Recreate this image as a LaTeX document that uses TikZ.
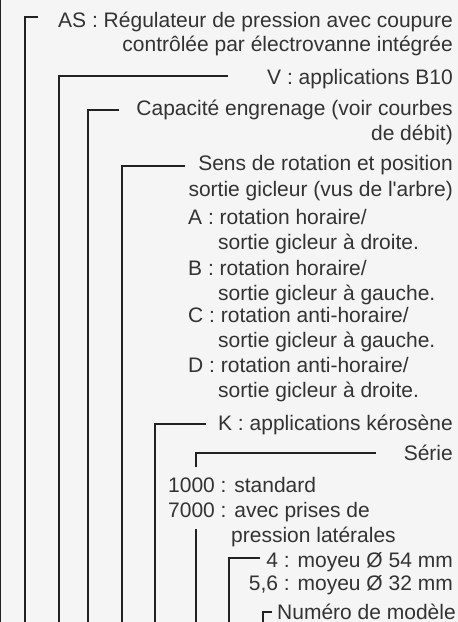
\documentclass[tikz,border=0pt]{standalone}
\usepackage{fontspec}
\setmainfont{Liberation Sans}
\usepackage{xcolor}
\usepackage{tikz}
\usetikzlibrary{positioning}
\usetikzlibrary{calc}
\definecolor{bggray}{HTML}{F5F5F5}
\definecolor{inkgray}{HTML}{222222}
\definecolor{txtgray}{HTML}{333333}
\newcommand{\apos}{\XeTeXglyph\XeTeXcharglyph"27\relax}

\begin{document}
\begin{tikzpicture}[x=1pt,y=-1pt,labelr/.style={anchor=base east,align=right},labell/.style={anchor=base west,align=left},bracket/.style={draw=inkgray,line width=2pt}]
            \fill[bggray] (0,0) rectangle (458,622);
            \useasboundingbox (0,0) rectangle (458,622);
            \draw[inkgray,line width=1pt] (0.5,0) -- (0.5,622);
            \begin{scope}[every node/.style={inner sep=0pt,text=txtgray,font=\fontsize{21}{25}\selectfont}]
              \node[labelr,font=\fontsize{21}{24}\selectfont] (as) at (453,51) {AS : Régulateur de pression avec coupure\\contrôlée par électrovanne intégrée};
              \node[labelr] (v) at (453,84) {V : applications B10};
              \node[labelr] (cap) at (453,140) {Capacité engrenage (voir courbes\\de débit)};
              \node[labelr,font=\fontsize{21}{26}\selectfont] (sens) at (453,196) {Sens de rotation et position\\sortie gicleur (vus de l\apos arbre)};
              \node[labell] (rota) at (188,249) {A : rotation horaire/\\\hspace*{30pt}sortie gicleur à droite.};
              \node[labell] (rotb) at (188,300) {B : rotation horaire/\\\hspace*{30pt}sortie gicleur à gauche.};
              \node[labell] (rotc) at (188,347) {C : rotation anti-horaire/\\\hspace*{30pt}sortie gicleur à gauche.};
              \node[labell] (rotd) at (188,397) {D : rotation anti-horaire/\\\hspace*{30pt}sortie gicleur à droite.};
              \node[labelr] (k) at (453,430) {K : applications kérosène};
              \node[labelr] (serie) at (453,460) {Série};
              \node[labell] (std1000) at (168,492) {1000 : standard};
              \node[labell] (std7000) at (168,542) {7000 : avec prises de\\\hspace*{63pt}pression latérales};
              \node[labelr] (moyeu) at (453,567) {4 : moyeu Ø 54 mm};
              \node[labelr] (moyeub) at (453,590) {5,6 : moyeu Ø 32 mm};
              \node[labell] (num) at (277,619) {Numéro de modèle};
            \end{scope}
            \foreach \name/\xpos in {as/25,v/59,cap/88,sens/122,k/155,serie/196,moyeu/229,num/263}
              \coordinate (\name-bot) at (\xpos,622);
            \coordinate (serie-stop) at (196,467);
            \coordinate (serie-restart) at (196,529);
            \draw[bracket] ([xshift=-20pt,yshift=34pt]as.base west) -| (as-bot);
            \draw[bracket] ([xshift=-39pt,yshift=8pt]v.base west) -| (v-bot);
            \draw[bracket] ([xshift=-17pt,yshift=30pt]cap.base west) -| (cap-bot);
            \draw[bracket] ([xshift=-3pt,yshift=30pt]sens.base west) -| (sens-bot);
            \draw[bracket] ([xshift=-12pt,yshift=6pt]k.base west) -| (k-bot);
            \draw[bracket] ([xshift=-28pt,yshift=7pt]serie.base west) -| (serie-stop);
            \draw[bracket] (serie-restart) -- (serie-bot);
            \draw[bracket] ([xshift=-6pt,yshift=9pt]moyeu.base west) -| (moyeu-bot);
            \draw[bracket] ([xshift=-5pt,yshift=7pt]num.base west) -| (num-bot);
          \end{tikzpicture}
\end{document}
